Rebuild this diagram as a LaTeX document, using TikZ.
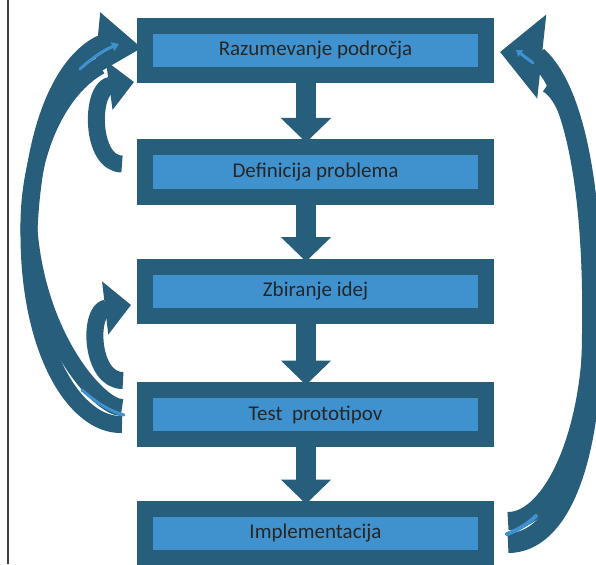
\documentclass[tikz,border=0pt]{standalone}
\usepackage{fontspec}
\setmainfont{Carlito}
\usetikzlibrary{arrows.meta,calc,backgrounds}
\definecolor{edgeblue}{HTML}{265E7C}
\definecolor{fillblue}{HTML}{4092CE}

\begin{document}
\begin{tikzpicture}[x=1pt,y=-1pt,
    box/.style={draw=edgeblue,fill=fillblue,line width=16pt,minimum width=341pt,minimum height=49pt,inner sep=0pt,text=black!85,font=\fontsize{21}{25}\selectfont},
    flow/.style={edgeblue,line width=20pt,-{Triangle[length=24.5pt,width=49pt]}},
    band/.style={edgeblue,line width=17pt,line join=round},
    streak/.style={fillblue,line width=3pt,line cap=round}]
    \useasboundingbox (0,0) rectangle (596,564);
    \draw[black!75,line width=1.2pt] (8,0) -- (8,564);

    % steps
    \node[box] (b1) at (315.5,50.5) {Razumevanje področja};
    \node[box] (b2) at (315.5,172) {Definicija problema};
    \node[box] (b3) at (315.5,291) {Zbiranje idej};
    \node[box] (b4) at (315.5,414.5) {Test\ \ prototipov};
    \node[box] (b5) at (315.5,533.5) {Implementacija};

    \begin{scope}[on background layer]
    % straight arrows down
    \draw[flow] ($(b1.south)+(-9.5,0)$) -- ($(b2.north)+(-9.5,3)$);
    \draw[flow] ($(b2.south)+(-9.5,0)$) -- ($(b3.north)+(-9.5,3)$);
    \draw[flow] ($(b3.south)+(-9.5,0)$) -- ($(b4.north)+(-9.5,3)$);
    \draw[flow] ($(b4.south)+(-9.5,0)$) -- ($(b5.north)+(-9.5,3)$);

    % big arrow on the left, test -> domain
    \draw[band,-{Triangle[length=45pt,width=60pt]}] ($(b4.west)+(-15,10)$) .. controls (75,426) and (28,350) .. (29,230)
        .. controls (34,120) and (65,62) .. (100,44) -- ($(b1.west)+(5,-2.5)$);
    \draw[band] ($(b4.west)+(-15,-7)$) .. controls (100,408) and (38,340) .. (29,230)
        .. controls (28,150) and (60,88) .. ($(b1.west)+(-37,15.5)$);
    \draw[streak] (82,390) .. controls (98,404) and (110,411) .. (124,415);
    \draw[streak,-{Triangle[length=7pt,width=9pt]}] (80,69) .. controls (92,58) and (104,50) .. (119,44);

    % small arrows on the left
    \draw[band,-{Triangle[length=25pt,width=48pt]}] ($(b2.west)+(-15,-8)$) .. controls (90,164) and (90,88) .. ($(b1.west)+(-3,31.5)$);
    \draw[band,-{Triangle[length=26pt,width=52pt]}] ($(b4.west)+(-14,-34)$) .. controls (90,381) and (88,310) .. ($(b3.west)+(-6,14)$);

    % big arrow on the right, implementation -> domain
    \draw[band,line width=20pt,-{Triangle[length=42pt,width=82pt]}] ($(b5.east)+(14,9.5)$) .. controls (560,543) and (592,460) .. (592,330)
        .. controls (594,200) and (577,92) .. (537,56) -- ($(b1.east)+(6,1.5)$);
    \draw[band,line width=18pt] ($(b5.east)+(14,-12.5)$) .. controls (550,521) and (590,440) .. (592,330)
        .. controls (592,180) and (575,100) .. ($(b1.east)+(54,33.5)$);
    \draw[streak,line width=4pt] (507,534) .. controls (518,530) and (528,524) .. (536,516);
    \draw[streak,-{Triangle[length=6pt,width=8pt]}] (533,63) -- (516,50);
    \end{scope}
\end{tikzpicture}
\end{document}
